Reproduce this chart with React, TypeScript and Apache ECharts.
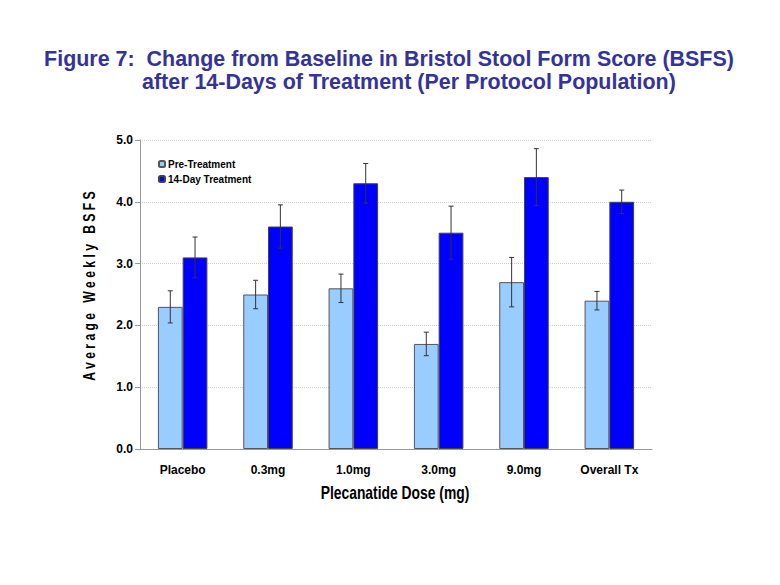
import React, { useEffect, useRef } from "react";
import * as echarts from "echarts";

const categories = ["Placebo", "0.3mg", "1.0mg", "3.0mg", "9.0mg", "Overall Tx"];
const preTreatment = [2.3, 2.5, 2.6, 1.7, 2.7, 2.4];
const preError = [0.26, 0.23, 0.23, 0.19, 0.4, 0.15];
const dayTreatment = [3.1, 3.6, 4.3, 3.5, 4.4, 4.0];
const dayError = [0.33, 0.35, 0.32, 0.43, 0.46, 0.19];
const yTicks = [0, 1, 2, 3, 4, 5];

const SANS = '"Liberation Sans", Arial, sans-serif';

const BAR_GAP_FRAC = 0.42;

function errorSeries(name: string, values: number[], errs: number[], side: number) {
  return {
    type: "custom",
    name,
    silent: true,
    z: 10,
    renderItem: (params: any, api: any) => {
      const idx = api.value(0);
      const v = api.value(1);
      const e = api.value(2);
      const catW = api.size([1, 0])[0];
      const barW = (catW * (1 - BAR_GAP_FRAC)) / 2;
      const c = api.coord([idx, v]);
      const x = c[0] + (side * barW) / 2;
      const top = api.coord([idx, v + e])[1];
      const bot = api.coord([idx, v - e])[1];
      const cap = 2.5;
      const style = { stroke: "#333333", lineWidth: 1 };
      return {
        type: "group",
        children: [
          { type: "line", shape: { x1: x, y1: top, x2: x, y2: bot }, style },
          { type: "line", shape: { x1: x - cap, y1: top, x2: x + cap, y2: top }, style },
          { type: "line", shape: { x1: x - cap, y1: bot, x2: x + cap, y2: bot }, style },
        ],
      };
    },
    data: values.map((v, i) => [i, v, errs[i]]),
  };
}

export default function App() {
  const ref = useRef<HTMLDivElement>(null);
  useEffect(() => {
    const chart = echarts.init(ref.current!, null, { renderer: "svg" });
    chart.setOption({
      animation: false,
      backgroundColor: "#ffffff",
      graphic: [
        {
          type: "text",
          x: 389,
          y: 58,
          scaleX: 0.975,
          style: {
            text: "Figure 7:  Change from Baseline in Bristol Stool Form Score (BSFS)",
            font: `bold 22px ${SANS}`,
            fill: "#333399",
            align: "center",
            verticalAlign: "middle",
          },
        },
        {
          type: "text",
          x: 142,
          y: 81,
          scaleX: 0.975,
          style: {
            text: "after 14-Days of Treatment (Per Protocol Population)",
            font: `bold 22px ${SANS}`,
            fill: "#333399",
            align: "left",
            verticalAlign: "middle",
          },
        },
        {
          type: "text",
          x: 89,
          y: 286,
          rotation: Math.PI / 2,
          scaleX: 0.76,
          style: {
            text: "A v e r a g e   W e e k l y   B S F S",
            font: `bold 16px ${SANS}`,
            fill: "#000000",
            align: "center",
            verticalAlign: "middle",
          },
        },
        {
          type: "text",
          x: 395,
          y: 493,
          scaleX: 0.73,
          style: {
            text: "Plecanatide Dose (mg)",
            font: `bold 19px ${SANS}`,
            fill: "#000000",
            align: "center",
            verticalAlign: "middle",
          },
        },
      ],
      legend: {
        left: 153,
        top: 154,
        orient: "vertical",
        itemWidth: 6,
        itemHeight: 6,
        itemGap: 5,
        textStyle: { fontFamily: SANS, fontWeight: "bold", fontSize: 10, color: "#000", padding: [0, 0, 0, -2] },
        data: ["Pre-Treatment", "14-Day Treatment"],
      },
      grid: { left: 140, right: 128, top: 140, bottom: 136, containLabel: false },
      xAxis: {
        type: "category",
        data: categories,
        axisLine: { lineStyle: { color: "#999999" } },
        axisTick: { length: 5, lineStyle: { color: "#999999" } },
        axisLabel: { fontFamily: SANS, fontWeight: "bold", fontSize: 12, color: "#000", margin: 15 },
      },
      yAxis: {
        type: "value",
        min: 0,
        max: 5,
        interval: 1,
        axisLine: { show: true, lineStyle: { color: "#999999" } },
        axisTick: { show: true, length: 5, lineStyle: { color: "#999999" } },
        axisLabel: {
          fontFamily: SANS,
          fontWeight: "bold",
          fontSize: 12,
          color: "#000",
          margin: 7,
          formatter: (v: number) => (yTicks.includes(v) ? v.toFixed(1) : ""),
        },
        splitLine: { lineStyle: { color: "#d0d0d0", type: "dotted" } },
      },
      series: [
        {
          name: "Pre-Treatment",
          type: "bar",
          data: preTreatment,
          barGap: "0%",
          barCategoryGap: "42%",
          itemStyle: { color: "#99CCFF", borderColor: "#555555", borderWidth: 1 },
        },
        {
          name: "14-Day Treatment",
          type: "bar",
          data: dayTreatment,
          barGap: "0%",
          barCategoryGap: "42%",
          itemStyle: { color: "#0000FF", borderColor: "#444444", borderWidth: 1 },
        },
        errorSeries("preErr", preTreatment, preError, -1),
        errorSeries("dayErr", dayTreatment, dayError, 1),
      ],
    });
    return () => chart.dispose();
  }, []);
  return <div ref={ref} style={{ width: 780, height: 585, margin: -8 }} />;
}
